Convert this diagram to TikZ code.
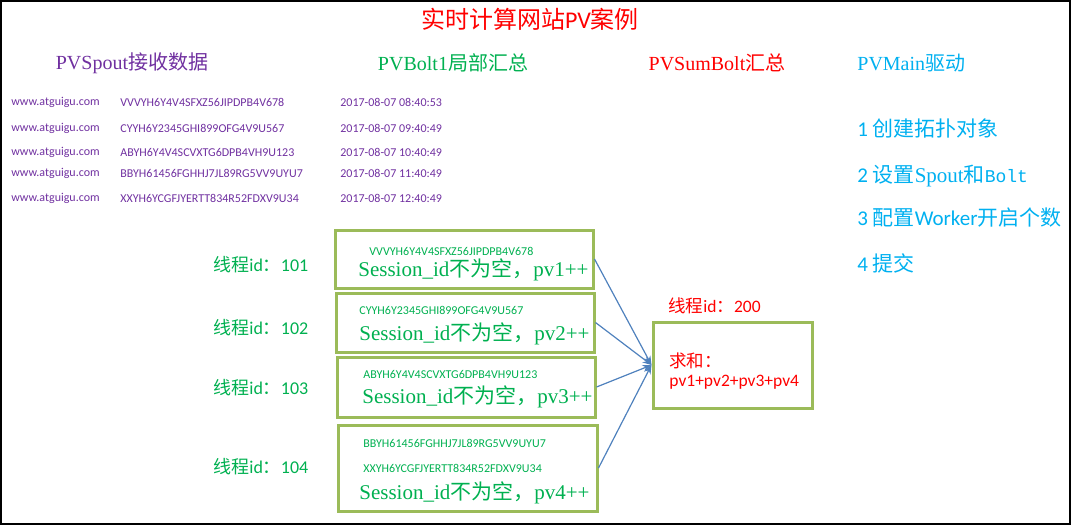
\documentclass[tikz,border=0pt]{standalone}
\usepackage{fontspec}
\setmainfont{Liberation Serif}
\newfontfamily\cjk{Noto Sans CJK SC}
\newfontfamily\calib{Carlito}
\newfontfamily\cour{Liberation Mono}
\usetikzlibrary{arrows.meta}
\definecolor{spoutc}{HTML}{7030A0}
\definecolor{boltc}{HTML}{00B050}
\definecolor{mainc}{HTML}{00B0F0}
\definecolor{boxc}{HTML}{9BBB59}
\definecolor{linkc}{HTML}{4F81BD}
\newcommand{\zh}[1]{{\cjk #1}}
\tikzset{every picture/.style={line width=0.75pt}}
\tikzset{
  title/.style={text=red, inner sep=0, font=\fontsize{24}{28}\selectfont},
  head/.style={inner sep=0, font=\fontsize{20}{24}\selectfont},
  row/.style={anchor=west, inner sep=0, text=spoutc, font=\calib\fontsize{12}{14}\selectfont},
  thread/.style={anchor=west, inner sep=0, text=boltc, font=\calib\fontsize{18}{21}\selectfont},
  sid/.style={anchor=west, inner sep=0, text=boltc, font=\calib\fontsize{12}{14}\selectfont},
  big/.style={anchor=west, inner sep=0, text=boltc, font=\fontsize{21}{25}\selectfont},
  pvbox/.style={draw=boxc, line width=3pt, inner sep=0},
  mainstep/.style={anchor=west, inner sep=0, text=mainc, font=\calib\fontsize{21}{25}\selectfont},
  sumtext/.style={anchor=west, inner sep=0, text=red, font=\calib\fontsize{17.5}{21}\selectfont},
  link/.style={draw=linkc, line width=1.2pt, -{Stealth[length=9pt,width=7pt]}}
}
\begin{document}
\begin{tikzpicture}[x=1pt,y=-1pt]
\useasboundingbox (0,0) rectangle (1071,525);
\draw[line width=2pt] (1,1) rectangle (1070,524);
\node[title] (title) at (530,19) {\zh{实时计算网站}{\calib PV}\zh{案例}};
%
\node[head, text=spoutc] (h1) at (132,63) {PVSpout\zh{接收数据}};
\node[head, text=boltc] (h2) at (453,63) {PVBolt1\zh{局部汇总}};
\node[head, text=red] (h3) at (717,63) {PVSumBolt\zh{汇总}};
\node[head, text=mainc, anchor=west] (h4) at (857,63) {PVMain\zh{驱动}};
%
\node[row] (u1) at (11,102) {www.atguigu.com};
\node[row] (u2) at (11,128) {www.atguigu.com};
\node[row] (u3) at (11,152) {www.atguigu.com};
\node[row] (u4) at (11,173) {www.atguigu.com};
\node[row] (u5) at (11,198) {www.atguigu.com};
\node[row] (k1) at (120,102) {VVVYH6Y4V4SFXZ56JIPDPB4V678};
\node[row] (k2) at (120,128) {CYYH6Y2345GHI899OFG4V9U567};
\node[row] (k3) at (120,152) {ABYH6Y4V4SCVXTG6DPB4VH9U123};
\node[row] (k4) at (120,173) {BBYH61456FGHHJ7JL89RG5VV9UYU7};
\node[row] (k5) at (120,198) {XXYH6YCGFJYERTT834R52FDXV9U34};
\node[row] (d1) at (340,102) {2017-08-07 08:40:53};
\node[row] (d2) at (340,128) {2017-08-07 09:40:49};
\node[row] (d3) at (340,152) {2017-08-07 10:40:49};
\node[row] (d4) at (340,173) {2017-08-07 11:40:49};
\node[row] (d5) at (340,198) {2017-08-07 12:40:49};
%
\node[mainstep] (m1) at (857,128) {1 \zh{创建拓扑对象}};
\node[mainstep] (m2) at (857,176) {2 \zh{设置}{\rmfamily Spout}\zh{和}{\cour\fontsize{18}{21}\selectfont Bolt}};
\node[mainstep] (m3) at (857,218) {3 \zh{配置}Worker\zh{开启个数}};
\node[mainstep] (m4) at (857,263) {4 \zh{提交}};
%
\node[thread] (th1) at (213,265) {\zh{线程}id\zh{：}101};
\node[thread] (th2) at (213,328) {\zh{线程}id\zh{：}102};
\node[thread] (th3) at (213,388) {\zh{线程}id\zh{：}103};
\node[thread] (th4) at (213,467) {\zh{线程}id\zh{：}104};
%
\node[pvbox, minimum width=258pt, minimum height=58pt] (b1) at (464,259) {};
\node[pvbox, minimum width=258pt, minimum height=59pt] (b2) at (465,322.5) {};
\node[pvbox, minimum width=258pt, minimum height=60pt] (b3) at (466,387) {};
\node[pvbox, minimum width=259pt, minimum height=86pt] (b4) at (467.5,468) {};
\node[sid] (s1) at (369,251) {VVVYH6Y4V4SFXZ56JIPDPB4V678};
\node[big] (p1) at (358,270) {Session\_id\zh{不为空，}pv1++};
\node[sid] (s2) at (359,310) {CYYH6Y2345GHI899OFG4V9U567};
\node[big] (p2) at (359,334) {Session\_id\zh{不为空，}pv2++};
\node[sid] (s3) at (363,374) {ABYH6Y4V4SCVXTG6DPB4VH9U123};
\node[big] (p3) at (362,397) {Session\_id\zh{不为空，}pv3++};
\node[sid] (s4) at (363,443) {BBYH61456FGHHJ7JL89RG5VV9UYU7};
\node[sid] (s5) at (363,468) {XXYH6YCGFJYERTT834R52FDXV9U34};
\node[big] (p4) at (359,493) {Session\_id\zh{不为空，}pv4++};
%
\node[pvbox, minimum width=159pt, minimum height=86pt] (sum) at (732.5,365) {};
\node[sumtext] (th5) at (668,306) {\zh{线程}id\zh{：}200};
\node[sumtext] (q1) at (669,361) {\zh{求和：}};
\node[sumtext] (q2) at (669,382) {pv1+pv2+pv3+pv4};
%
\draw[link] (b1.east) -- (sum.west);
\draw[link] (b2.east) -- (sum.west);
\draw[link] (b3.east) -- (sum.west);
\draw[link] (b4.east) -- (sum.west);
\end{tikzpicture}
\end{document}
